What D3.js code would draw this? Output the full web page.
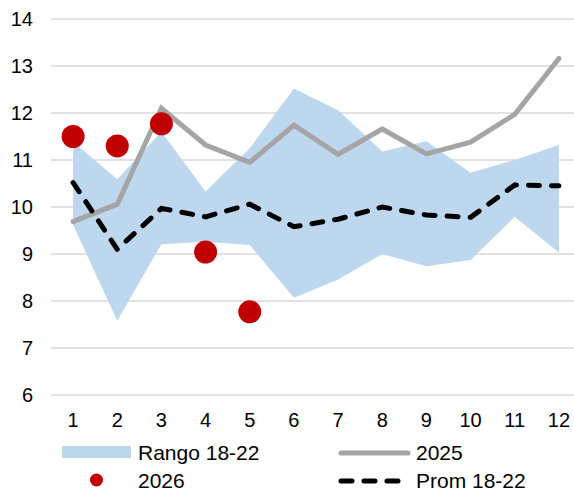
<!DOCTYPE html>
<html><head><meta charset="utf-8">
<script src="https://cdn.jsdelivr.net/npm/d3@7"></script>
<style>body{margin:0;background:#fff}svg{display:block}text{font-family:"Liberation Sans",Arial,sans-serif;fill:#000}</style>
</head><body>
<svg id="c" width="574" height="491"></svg>
<script>
const months = ["1","2","3","4","5","6","7","8","9","10","11","12"];
const rangeLow  = [9.62, 7.58, 9.21, 9.26, 9.19, 8.07, 8.46, 9.00, 8.74, 8.87, 9.79, 9.03];
const rangeHigh = [11.39, 10.59, 11.60, 10.33, 11.25, 12.52, 12.06, 11.18, 11.40, 10.73, 11.00, 11.32];
const y2025 = [9.69, 10.06, 12.10, 11.32, 10.95, 11.74, 11.12, 11.66, 11.13, 11.38, 11.97, 13.16];
const prom = [10.52, 9.10, 9.97, 9.79, 10.06, 9.58, 9.74, 10.00, 9.83, 9.78, 10.47, 10.45];
const y2026 = [11.50, 11.30, 11.77, 9.04, 7.77];
const yTicks = [6,7,8,9,10,11,12,13,14];

const svg = d3.select("#c");
const x = d3.scaleBand().domain(months).range([51, 581]);
const cx = m => x(m) + x.bandwidth()/2;
const y = d3.scaleLinear().domain([6, 14]).range([395, 19]);

// gridlines
svg.append("g").selectAll("line").data(yTicks).join("line")
  .attr("x1", 51).attr("x2", 574)
  .attr("y1", d => y(d)).attr("y2", d => y(d))
  .attr("stroke", "#D9D9D9").attr("stroke-width", 1.5);

// y labels
svg.append("g").selectAll("text").data(yTicks).join("text")
  .attr("x", 33).attr("y", d => y(d) + 7)
  .attr("text-anchor", "end").attr("font-size", 20).text(d => d);

// x labels
svg.append("g").selectAll("text").data(months).join("text")
  .attr("x", d => cx(d)).attr("y", 427)
  .attr("text-anchor", "middle").attr("font-size", 20).text(d => d);

// band
const band = months.map((m, i) => ({m, lo: rangeLow[i], hi: rangeHigh[i]}));
svg.append("path").datum(band)
  .attr("d", d3.area().x(d => cx(d.m)).y0(d => y(d.lo)).y1(d => y(d.hi)))
  .attr("fill", "#BDD7EE");

// 2025
svg.append("path").datum(months.map((m, i) => ({m, v: y2025[i]})))
  .attr("d", d3.line().x(d => cx(d.m)).y(d => y(d.v)))
  .attr("fill", "none").attr("stroke", "#A5A5A5").attr("stroke-width", 5)
  .attr("stroke-linejoin", "miter").attr("stroke-linecap", "round");

// Prom
svg.append("path").datum(months.map((m, i) => ({m, v: prom[i]})))
  .attr("d", d3.line().x(d => cx(d.m)).y(d => y(d.v)))
  .attr("fill", "none").attr("stroke", "#000").attr("stroke-width", 5)
  .attr("stroke-dasharray", "11,12").attr("stroke-linecap", "round");

// 2026 dots
svg.append("g").selectAll("circle").data(y2026).join("circle")
  .attr("cx", (d, i) => cx(months[i])).attr("cy", d => y(d))
  .attr("r", 11.5).attr("fill", "#C00000");

// legend
const lg = svg.append("g");
lg.append("rect").attr("x", 62).attr("y", 446).attr("width", 69).attr("height", 12).attr("fill", "#BDD7EE");
lg.append("text").attr("x", 138).attr("y", 460).attr("font-size", 21).text("Rango 18-22");
lg.append("line").attr("x1", 341).attr("x2", 408).attr("y1", 453).attr("y2", 453)
  .attr("stroke", "#A5A5A5").attr("stroke-width", 5).attr("stroke-linecap", "round");
lg.append("text").attr("x", 416).attr("y", 460).attr("font-size", 21).text("2025");
lg.append("circle").attr("cx", 96.5).attr("cy", 480).attr("r", 6.5).attr("fill", "#C00000");
lg.append("text").attr("x", 138).attr("y", 488).attr("font-size", 21).text("2026");
lg.append("line").attr("x1", 341).attr("x2", 402).attr("y1", 481).attr("y2", 481)
  .attr("stroke", "#000").attr("stroke-width", 5).attr("stroke-linecap", "round")
  .attr("stroke-dasharray", "11,12");
lg.append("text").attr("x", 416).attr("y", 488).attr("font-size", 21).text("Prom 18-22");
</script>
</body></html>
